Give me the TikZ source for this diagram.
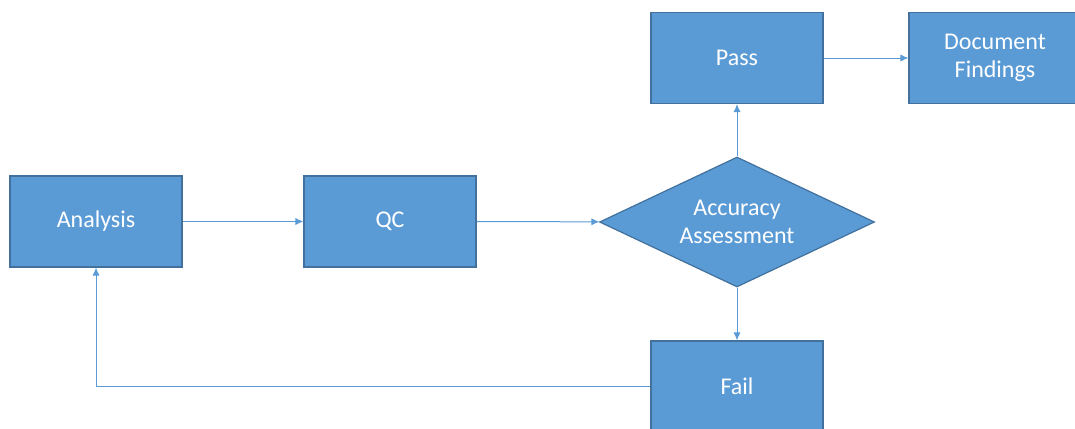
\documentclass[tikz,border=0pt]{standalone}
\usepackage{fontspec}
\setmainfont{Carlito}
\usetikzlibrary{shapes.geometric,arrows.meta}
\definecolor{boxfill}{HTML}{5B9BD5}
\definecolor{boxline}{HTML}{41719C}
\definecolor{arrline}{HTML}{5B9BD5}
\begin{document}
\begin{tikzpicture}[x=0.5pt,y=-0.5pt,
		every node/.style={font=\fontsize{12pt}{14pt}\selectfont,text=white,align=center},
		stepbox/.style={rectangle,draw=boxline,fill=boxfill,line width=0.6pt,minimum width=86pt,minimum height=45.5pt,inner sep=0pt},
		decide/.style={diamond,draw=boxline,fill=boxfill,line width=0.6pt,aspect=2.1,minimum width=137.5pt,minimum height=65pt,inner sep=0pt},
		flow/.style={draw=arrline,line width=0.5pt,-{Latex[length=4pt,width=3.6pt]}}]
		
		\useasboundingbox (0,0) rectangle (1075,428);
		\clip (0,0) rectangle (1075,428);
		
		\node[stepbox] (analysis) at (96,221.5) {Analysis};
		\node[stepbox] (qc) at (390,221.5) {QC};
		\node[decide] (accuracy) at (737,222) {Accuracy\\Assessment};
		\node[stepbox] (pass) at (737,58) {Pass};
		\node[stepbox] (findings) at (995,58) {Document\\Findings};
		\node[stepbox] (fail) at (737,386.5) {Fail};
		
		\draw[flow] (analysis) -- (qc);
		\draw[flow] (qc) -- (accuracy);
		\draw[flow] (accuracy) -- (pass);
		\draw[flow] (pass) -- (findings);
		\draw[flow] (accuracy) -- (fail);
		\draw[flow] (fail.west) -| (analysis.south);
		\end{tikzpicture}
\end{document}
